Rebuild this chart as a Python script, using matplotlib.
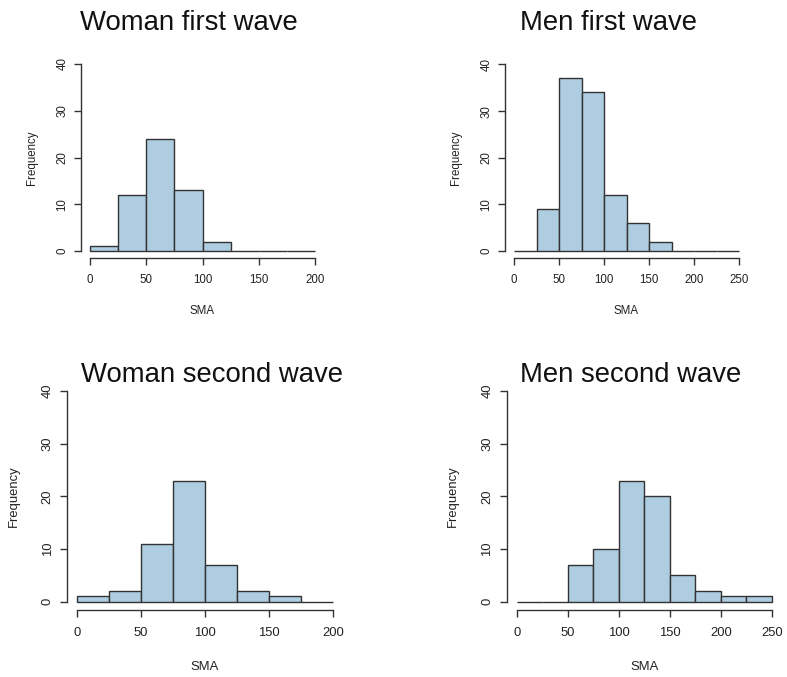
import numpy as np
import matplotlib
matplotlib.use("Agg")
import matplotlib.pyplot as plt

plt.rcParams['font.family'] = ['Liberation Sans', 'DejaVu Sans']

# histogram counts per 25-wide SMA bin
bin_width = 25
woman_first = [1, 12, 24, 13, 2, 0, 0, 0]
men_first = [0, 9, 37, 34, 12, 6, 2, 0, 0, 0]
woman_second = [1, 2, 11, 23, 7, 2, 1, 0]
men_second = [0, 0, 7, 10, 23, 20, 5, 2, 1, 1]

titles = ['Woman first wave', 'Men first wave', 'Woman second wave', 'Men second wave']
series = [woman_first, men_first, woman_second, men_second]
xmax = [200, 250, 200, 250]
xticks = [[0, 50, 100, 150, 200], [0, 50, 100, 150, 200, 250],
          [0, 50, 100, 150, 200], [0, 50, 100, 150, 200, 250]]
yticks = [0, 10, 20, 30, 40]

W, H = 787, 677
fig = plt.figure(figsize=(W / 100, H / 100), dpi=100)

# axes boxes in pixels: left, right, top, bottom
boxes = [(81, 324, 56.5, 258.5), (505, 748, 57, 258.5),
         (67, 343, 382.6, 610), (506.5, 782, 382.6, 610)]
title_pos = [(80, 30), (520, 30), (81, 382), (520, 382)]
# top row text is drawn a bit smaller than the bottom row
font_size = [8.3, 8.3, 9.4, 9.4]
ylabel_pad = [13.5, 13.5, 16, 16]
xlabel_pad = [13.5, 13.5, 15.5, 15.5]
xtick_pad = [6, 6, 7.5, 7.5]
ytick_pad = [4, 4, 4.5, 4.5]

bar_color = '#aecde0'
edge_color = '#333333'

for i in range(4):
    l, r, t, b = boxes[i]
    ax = fig.add_axes([l / W, 1 - b / H, (r - l) / W, (b - t) / H])
    counts = series[i]
    edges = np.arange(0, xmax[i] + bin_width, bin_width)
    ax.bar(edges[:-1], counts, width=bin_width, align='edge',
           color=bar_color, edgecolor=edge_color, linewidth=1.0)
    ext = 0.04 * xmax[i]
    ax.set_xlim(-ext, xmax[i] + ext)
    ax.set_ylim(-1.6, 41.6)
    for s in ['top', 'right']:
        ax.spines[s].set_visible(False)
    ax.spines['bottom'].set_bounds(0, xmax[i])
    ax.spines['left'].set_bounds(0, 40)
    for s in ['bottom', 'left']:
        ax.spines[s].set_color(edge_color)
        ax.spines[s].set_linewidth(1.0)
    ax.set_xticks(xticks[i])
    ax.set_yticks(yticks)
    ax.tick_params(length=5, width=1.0, color=edge_color, labelsize=font_size[i],
                   labelcolor='#222222')
    ax.tick_params(axis='x', pad=xtick_pad[i])
    ax.tick_params(axis='y', pad=ytick_pad[i])
    plt.setp(ax.get_yticklabels(), rotation=90, va='center')
    ax.set_xlabel('SMA', fontsize=font_size[i], color='#222222', labelpad=xlabel_pad[i])
    ax.set_ylabel('Frequency', fontsize=font_size[i], color='#222222', labelpad=ylabel_pad[i])
    tx, ty = title_pos[i]
    fig.text(tx / W, 1 - ty / H, titles[i], fontsize=19.8, ha='left',
             va='baseline', color='#111111')

fig.savefig('out.png', dpi=100)
